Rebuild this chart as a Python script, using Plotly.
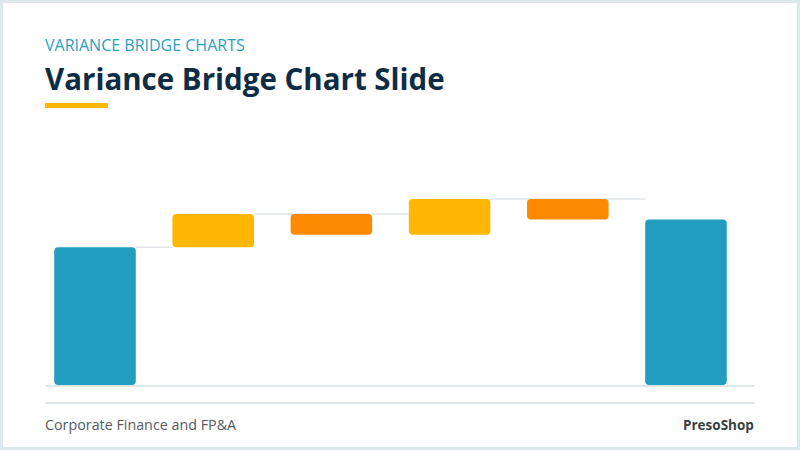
import plotly.graph_objects as go

# Bridge data
steps = ['Start', 'Increase 1', 'Decrease 1', 'Increase 2', 'Decrease 2', 'End']
changes = [100, 24, -15, 26, -15]
kinds = ['total', 'up', 'down', 'up', 'down', 'total']

TEAL = '#239dbd'
YELLOW = '#ffb703'
ORANGE = '#fe8a02'
colors = {'total': TEAL, 'up': YELLOW, 'down': ORANGE}

# running totals -> base / height of every bar
bases, heights = [], []
level = 0
for k, c in zip(kinds, changes + [None]):
    if k == 'total':
        bases.append(0)
        heights.append(level if c is None else c)
        if c is not None:
            level = c
    else:
        bases.append(level if c > 0 else level + c)
        heights.append(abs(c))
        level += c

xs = list(range(len(steps)))
W = 0.69

fig = go.Figure()
fig.add_trace(go.Bar(
    x=xs, y=heights, base=bases, width=W,
    marker=dict(color=[colors[k] for k in kinds], line=dict(width=0)),
    hoverinfo='skip', showlegend=False
))

# connector lines at the top of each bar that goes up
shapes = []
tops = [b + h for b, h in zip(bases, heights)]
ups = [i for i, k in enumerate(kinds) if k != 'down']
for a, b in zip(ups[:-1], ups[1:]):
    shapes.append(dict(type='line', xref='x', yref='y', layer='below',
                       x0=a + W / 2, x1=b - W / 2, y0=tops[a], y1=tops[a],
                       line=dict(color='#e2e6e9', width=1.5)))

# slide decorations
shapes += [
    dict(type='rect', xref='paper', yref='paper', x0=-45 / 710, x1=1 + 45 / 710,
         y0=-65 / 255, y1=1 + 130 / 255, line=dict(color='#dce8ec', width=6)),
    dict(type='rect', xref='paper', yref='paper', x0=0, x1=63 / 710,
         y0=1 + 22 / 255, y1=1 + 27 / 255, fillcolor=YELLOW, line=dict(width=0)),
    dict(type='line', xref='paper', yref='paper', x0=0, x1=1,
         y0=-18 / 255, y1=-18 / 255, line=dict(color='#dfe7ea', width=2)),
]

fig.update_layout(
    width=800, height=450,
    margin=dict(l=45, r=45, t=130, b=65),
    paper_bgcolor='white', plot_bgcolor='white',
    barcornerradius=4,
    shapes=shapes,
    xaxis=dict(range=[-0.423, 5.584], showticklabels=False, showgrid=False,
               zeroline=False, showline=True, linecolor='#dfe7ea', linewidth=2,
               fixedrange=True),
    yaxis=dict(range=[0, 185], showticklabels=False, showgrid=False,
               zeroline=False, fixedrange=True),
    font=dict(family='Open Sans'),
    annotations=[
        dict(text='VARIANCE BRIDGE CHARTS', xref='paper', yref='paper', x=0,
             y=1 + 85 / 255, xanchor='left', yanchor='middle', showarrow=False,
             xshift=-2, font=dict(size=16, color='#2a9fc0', family='Open Sans')),
        dict(text='<b>Variance Bridge Chart Slide</b>', xref='paper', yref='paper',
             x=0, y=1 + 52 / 255, xanchor='left', yanchor='middle', showarrow=False,
             xshift=-2, font=dict(size=29.5, color='#0e2c45', family='Open Sans')),
        dict(text='Corporate Finance and FP&A', xref='paper', yref='paper', x=0,
             y=-40 / 255, xanchor='left', yanchor='middle', showarrow=False,
             xshift=-2, font=dict(size=14.3, color='#555a5e', family='Open Sans')),
        dict(text='<b>PresoShop</b>', xref='paper', yref='paper', x=1,
             y=-40 / 255, xanchor='right', yanchor='middle', showarrow=False,
             xshift=1, font=dict(size=13.5, color='#3a3f44', family='Open Sans')),
    ],
)

fig.write_html('out.html', config={'displayModeBar': False},
               post_script="document.body.style.margin='0';")
